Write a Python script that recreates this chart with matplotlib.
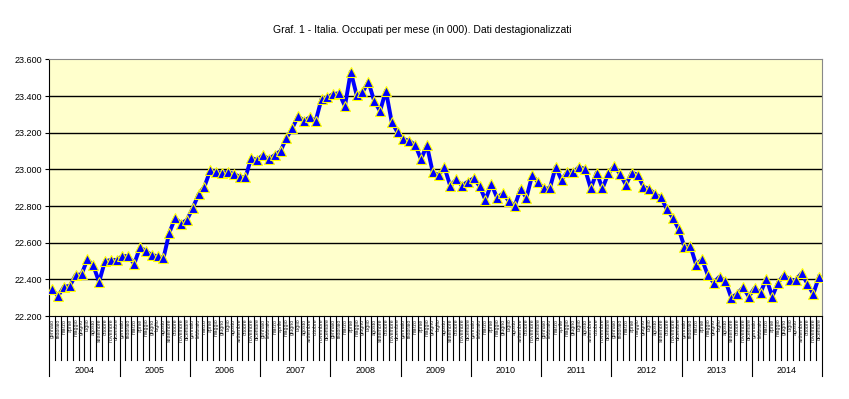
import matplotlib
matplotlib.use("Agg")
from matplotlib import pyplot as plt
import matplotlib.transforms as mtransforms

plt.rcParams['font.family'] = ['Liberation Sans', 'DejaVu Sans']

years = [str(y) for y in range(2004, 2015)]
mesi = ["gennaio", "febbraio", "marzo", "aprile", "maggio", "giugno",
        "luglio", "agosto", "settembre", "ottobre", "novembre", "dicembre"]

# occupati (migliaia), dati mensili destagionalizzati gen 2004 - dic 2014
occ_2004 = [22345, 22309, 22360, 22364, 22424, 22427, 22509, 22476, 22386, 22498, 22506, 22506]
occ_2005 = [22527, 22527, 22484, 22575, 22555, 22531, 22527, 22516, 22655, 22735, 22704, 22724]
occ_2006 = [22789, 22864, 22906, 22995, 22986, 22982, 22986, 22975, 22960, 22956, 23062, 23051]
occ_2007 = [23078, 23055, 23078, 23100, 23170, 23224, 23291, 23264, 23284, 23264, 23384, 23393]
occ_2008 = [23411, 23415, 23345, 23533, 23405, 23420, 23478, 23373, 23318, 23429, 23256, 23202]
occ_2009 = [23165, 23156, 23133, 23055, 23131, 22984, 22969, 23011, 22909, 22945, 22911, 22933]
occ_2010 = [22951, 22909, 22833, 22920, 22845, 22869, 22827, 22800, 22893, 22845, 22969, 22929]
occ_2011 = [22896, 22896, 23013, 22942, 22987, 22983, 23013, 23002, 22896, 22982, 22896, 22978]
occ_2012 = [23018, 22975, 22915, 22982, 22971, 22905, 22893, 22864, 22847, 22782, 22736, 22675]
occ_2013 = [22578, 22582, 22480, 22509, 22422, 22382, 22415, 22391, 22300, 22320, 22356, 22306]
occ_2014 = [22353, 22327, 22404, 22306, 22382, 22424, 22398, 22396, 22433, 22376, 22320, 22415]

occupati = (occ_2004 + occ_2005 + occ_2006 + occ_2007 + occ_2008 + occ_2009 +
            occ_2010 + occ_2011 + occ_2012 + occ_2013 + occ_2014)
labels = [m for y in years for m in mesi]
x = list(range(len(occupati)))

fig = plt.figure(figsize=(8.49, 3.99), dpi=100)
ax = fig.add_axes([0.0581, 0.208, 0.9101, 0.6432])
ax.set_facecolor("#FFFFCC")

yt = list(range(22200, 23601, 200))
for v in yt[1:-1]:
    ax.axhline(v, color="black", lw=1, zorder=1)

ax.plot(x, occupati, color="#0000FF", lw=2.8, marker="^", ms=6.5,
        mfc="#0000FF", mec="#FFFF00", mew=0.8, zorder=3)

ax.set_xlim(-0.5, len(occupati) - 0.5)
ax.set_ylim(22200, 23600)
ax.set_yticks(yt)
ax.set_yticklabels(["{:,}".format(v).replace(",", ".") for v in yt], fontsize=6.5)
ax.tick_params(axis="y", length=3, width=0.8, pad=2)
ax.set_xticks([])

for s in ["top", "right"]:
    ax.spines[s].set_color("#888888")
ax.spines["left"].set_color("black")
ax.spines["bottom"].set_color("black")

# separatori mesi e anni sotto l'asse
trans = mtransforms.blended_transform_factory(ax.transData, ax.transAxes)
for k in range(len(occupati) + 1):
    if k % 12 == 0:
        ax.plot([k - 0.5, k - 0.5], [0, -0.234], color="black", lw=0.8,
                transform=trans, clip_on=False)
    else:
        ax.plot([k - 0.5, k - 0.5], [0, -0.171], color="black", lw=0.8,
                transform=trans, clip_on=False)

for k, lab in enumerate(labels):
    ax.text(k, -0.01, lab, rotation=90, ha="center", va="top", fontsize=3.8,
            color="#222222", transform=trans, clip_on=False)

for j, yr in enumerate(years):
    ax.text(12 * j + 5.5, -0.214, yr, ha="center", va="center", fontsize=6.5,
            transform=trans, clip_on=False)

fig.text(0.497, 0.925, "Graf. 1 - Italia. Occupati per mese (in 000). Dati destagionalizzati",
         ha="center", va="center", fontsize=7.5)

fig.savefig("out.png", dpi=100)
